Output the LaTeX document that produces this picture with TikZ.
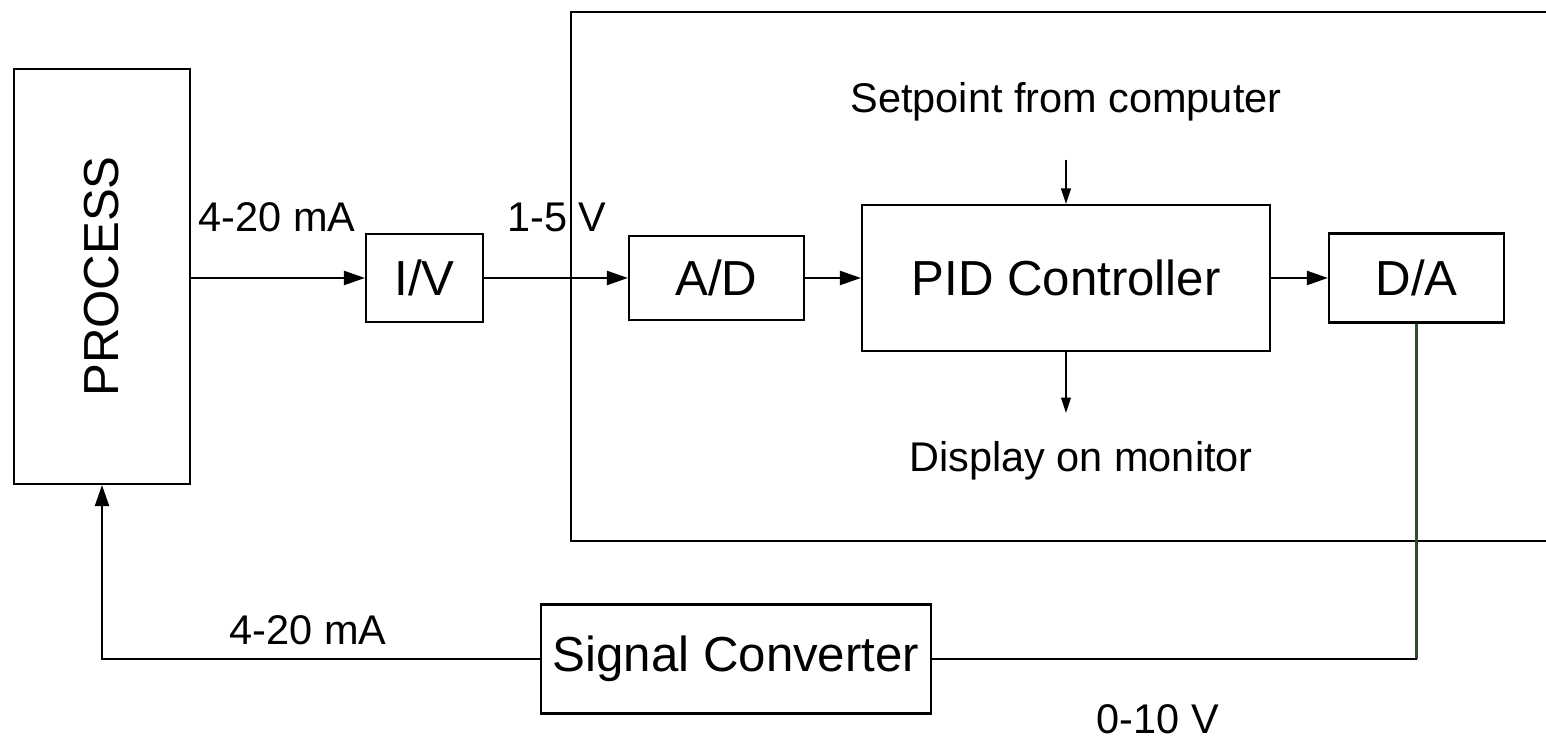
\documentclass[tikz,border=0pt]{standalone}
\usepackage{fontspec}
\setmainfont{Liberation Sans}
\usetikzlibrary{arrows.meta}
\definecolor{wiregreen}{RGB}{35,85,35}

\begin{document}
\begin{tikzpicture}[x=1cm,y=1cm,line width=0.6pt,
  blk/.style={draw,inner sep=0pt,font=\fontsize{14}{16}\selectfont},
  lbl/.style={anchor=base,inner sep=0pt,font=\fontsize{11.8}{14}\selectfont},
  sig/.style={-{Triangle[length=6pt,width=4pt]}},
  thin sig/.style={line width=0.4pt,-{Triangle[length=4.4pt,width=2.8pt]}}]
\useasboundingbox (0,0) rectangle (15.46,7.39);
% computer frame, open to the right
\draw[line width=0.75pt] (15.46,7.27) -- (5.71,7.27) -- (5.71,1.98) -- (15.46,1.98);
% blocks
\node[blk,minimum width=4.15cm,minimum height=1.76cm,rotate=90] (proc) at (1.02,4.625) {PROCESS};
\node[blk,minimum width=1.17cm,minimum height=0.88cm] (iv) at (4.245,4.61) {I/V};
\node[blk,minimum width=1.75cm,minimum height=0.84cm] (ad) at (7.165,4.61) {A/D};
\node[blk,minimum width=4.08cm,minimum height=1.46cm] (pid) at (10.66,4.61) {PID Controller};
\node[blk,minimum width=1.75cm,minimum height=0.89cm] (da) at (14.165,4.61) {D/A};
\node[blk,minimum width=3.90cm,minimum height=1.09cm] (sc) at (7.36,0.80) {Signal Converter};
% labels
\node[lbl] (sp) at (10.66,6.26) {Setpoint from computer};
\node[lbl] (disp) at (10.81,2.67) {Display on monitor};
\node[lbl] (lmA) at (2.77,5.07) {4-20 mA};
\node[lbl] (lV) at (5.57,5.07) {1-5 V};
\node[lbl] (lout) at (11.58,0.05) {0-10 V};
\node[lbl] (lback) at (3.08,0.94) {4-20 mA};
\coordinate (spin) at (10.66,5.79);
\coordinate (dispout) at (10.66,3.26);
\coordinate (dacorner) at (da.south |- sc.east);
% forward path
\draw[sig] (proc.south |- iv.west) -- (iv.west);
\draw[sig] (iv.east) -- (ad.west);
\draw[sig] (ad.east) -- (pid.west);
\draw[sig] (pid.east) -- (da.west);
\draw[thin sig] (spin) -- (pid.north);
\draw[thin sig] (pid.south) -- (dispout);
% feedback path
\draw[wiregreen] (da.south) -- (dacorner);
\draw (dacorner) -- (sc.east);
\draw[sig] (sc.west) -| (proc.west);
\end{tikzpicture}
\end{document}
